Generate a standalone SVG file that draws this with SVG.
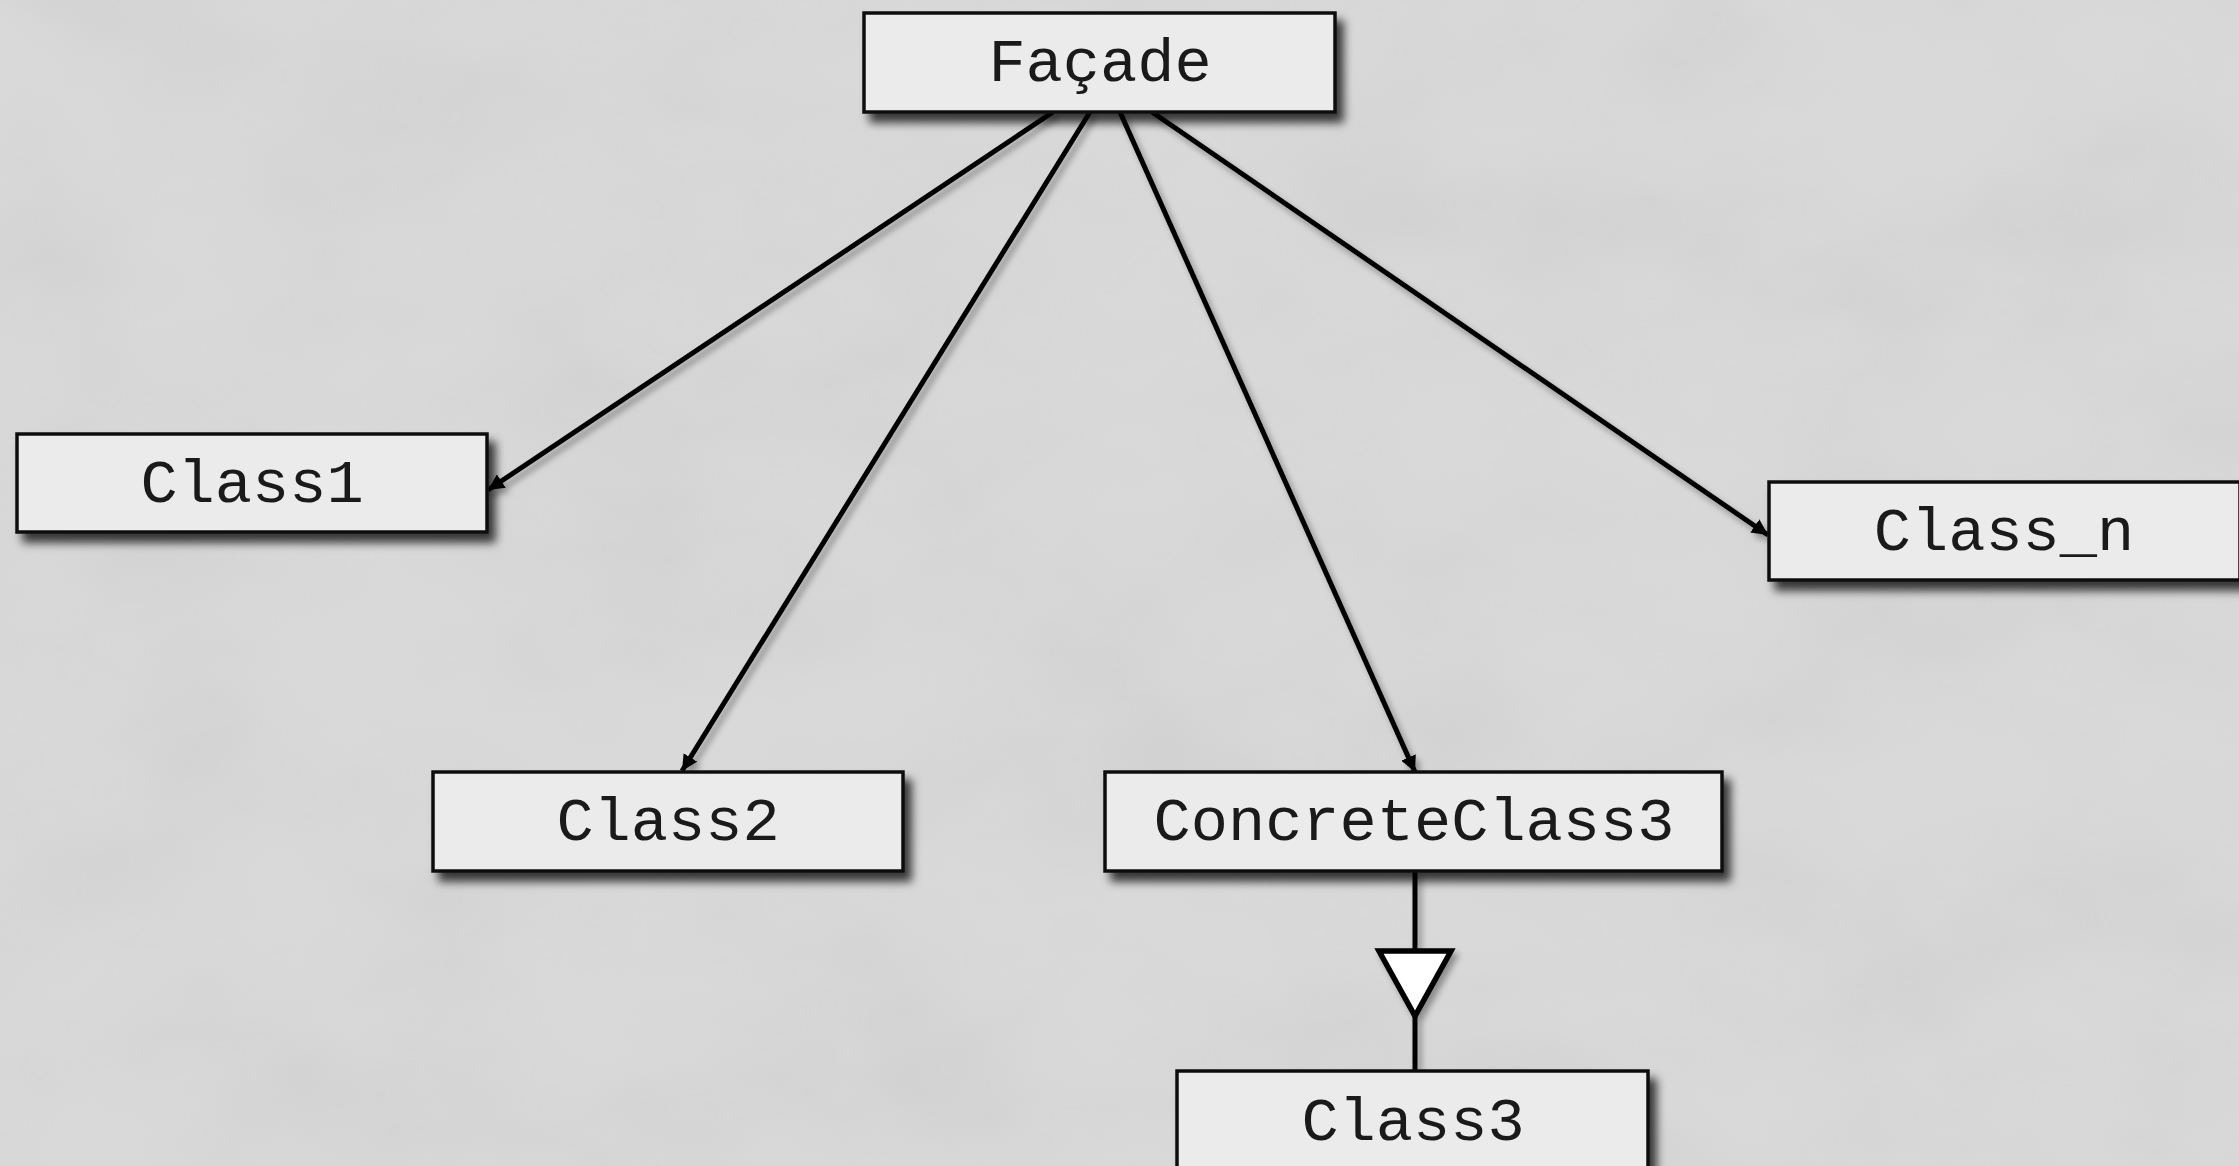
<svg xmlns="http://www.w3.org/2000/svg" width="2239" height="1166" viewBox="0 0 2239 1166">
<defs>
<style>
.box{fill:#ebebeb;stroke:#111;stroke-width:3.5}
.lbl{font-family:"Liberation Mono","Courier New",monospace;font-size:62px;fill:#1a1a1a;text-anchor:middle}
.edge{stroke:#000;stroke-width:5;fill:none}
</style>
<filter id="shadow" x="-10%" y="-20%" width="130%" height="160%">
<feDropShadow dx="7" dy="9" stdDeviation="5" flood-color="#000" flood-opacity="0.75"/>
</filter>
<filter id="lshadow" x="-10%" y="-10%" width="120%" height="120%">
<feDropShadow dx="4" dy="5" stdDeviation="3" flood-color="#000" flood-opacity="0.35"/>
</filter>
<filter id="paper" x="0" y="0" width="100%" height="100%">
<feTurbulence type="fractalNoise" baseFrequency="0.004 0.006" numOctaves="4" seed="7" result="n"/>
<feColorMatrix type="matrix" values="0 0 0 0 0.5  0 0 0 0 0.5  0 0 0 0 0.5  0 0 0 1.6 -0.55"/>
</filter>
<marker id="arr" viewBox="0 0 10 10" refX="10" refY="5" markerWidth="3.2" markerHeight="3.2" orient="auto" markerUnits="strokeWidth">
<path d="M0,0 L10,5 L0,10 z" fill="#000"/>
</marker>
</defs>
<rect width="2239" height="1166" fill="#d9d9d9"/>
<rect width="2239" height="1166" filter="url(#paper)" opacity="0.25"/>
<g id="connectors" filter="url(#lshadow)">
<line class="edge" x1="1053" y1="112" x2="488" y2="490" marker-end="url(#arr)"/>
<line class="edge" x1="1090" y1="112" x2="682" y2="771" marker-end="url(#arr)"/>
<line class="edge" x1="1120" y1="112" x2="1415" y2="772" marker-end="url(#arr)"/>
<line class="edge" x1="1152" y1="112" x2="1768" y2="535" marker-end="url(#arr)"/>
<line class="edge" x1="1415" y1="871" x2="1415" y2="952"/>
<line class="edge" x1="1415" y1="1016" x2="1415" y2="1072"/>
<polygon points="1379,951 1451,951 1415,1016" fill="#fff" stroke="#000" stroke-width="5.5"/>
</g>
<g id="facade">
<rect class="box" x="864" y="13" width="471" height="99" filter="url(#shadow)"/>
<text class="lbl" x="1100" y="81">Façade</text>
</g>
<g id="class1">
<rect class="box" x="17" y="434" width="470" height="98" filter="url(#shadow)"/>
<text class="lbl" x="252" y="502">Class1</text>
</g>
<g id="class2">
<rect class="box" x="433" y="772" width="470" height="99" filter="url(#shadow)"/>
<text class="lbl" x="668" y="840">Class2</text>
</g>
<g id="concreteclass3">
<rect class="box" x="1105" y="772" width="617" height="99" filter="url(#shadow)"/>
<text class="lbl" x="1414" y="840">ConcreteClass3</text>
</g>
<g id="class_n">
<rect class="box" x="1769" y="482" width="471" height="98" filter="url(#shadow)"/>
<text class="lbl" x="2004" y="550">Class_n</text>
</g>
<g id="class3">
<rect class="box" x="1177" y="1071" width="471" height="99" filter="url(#shadow)"/>
<text class="lbl" x="1413" y="1140">Class3</text>
</g>
</svg>
